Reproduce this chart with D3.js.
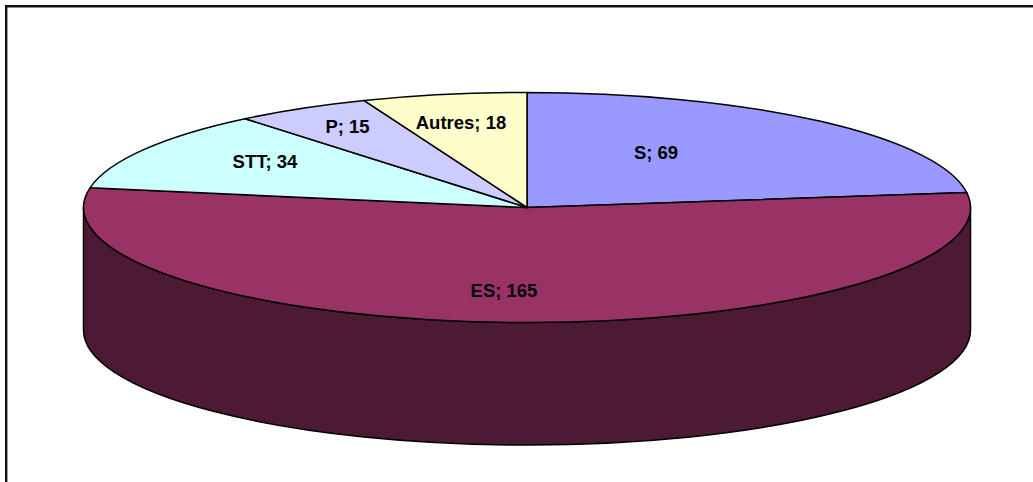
<!DOCTYPE html>
<html><head><meta charset="utf-8">
<script src="https://cdn.jsdelivr.net/npm/d3@7"></script>
<style>html,body{margin:0;padding:0;background:#fff}svg{display:block}</style>
</head><body><svg id="c" width="1033" height="482"></svg>
<script>
const categories = ["S","ES","STT","P","Autres"];
const seriesValues = [69,165,34,15,18];
const sliceColors = ["#9999FF","#993366","#CCFFFF","#CCCCFF","#FFFFCC"];
const sideColor = "#4D1A33";
const labelAnchors = [[656,153],[504,290.5],[265,162],[347.5,127],[461,123]];

const W=1033,H=482,cx=527,cy=207.5,rx=443.5,ry=115,depth=122.5;
const svg=d3.select("#c");
svg.append("path").attr("d",`M6.2,${H}V6.2H${W}`).attr("fill","none")
  .attr("stroke","#111").attr("stroke-width",2.4);

svg.append("path")
  .attr("d",`M${cx-rx},${cy}V${cy+depth}A${rx},${ry} 0 0 0 ${cx+rx},${cy+depth}V${cy}A${rx},${ry} 0 0 1 ${cx-rx},${cy}Z`)
  .attr("fill",sideColor).attr("stroke","#000").attr("stroke-width",1.5);

const pie=d3.pie().sort(null).value(d=>d)(seriesValues);
const arc=d3.arc().innerRadius(0).outerRadius(rx);
const g=svg.append("g").attr("transform",`translate(${cx},${cy}) scale(1,${ry/rx})`);
g.selectAll("path").data(pie).join("path")
  .attr("d",arc).attr("fill",(d,i)=>sliceColors[i])
  .attr("stroke","#000").attr("stroke-width",1.5)
  .attr("vector-effect","non-scaling-stroke").attr("stroke-linejoin","round");

svg.selectAll("text.l").data(pie).join("text").attr("class","l")
  .attr("x",(d,i)=>labelAnchors[i][0]).attr("y",(d,i)=>labelAnchors[i][1])
  .attr("dy","0.35em").attr("text-anchor","middle")
  .attr("font-family","'Liberation Sans',Arial,sans-serif").attr("font-weight","bold")
  .attr("font-size",18.5).attr("fill","#000")
  .text((d,i)=>`${categories[i]}; ${d.value}`);
</script></body></html>
